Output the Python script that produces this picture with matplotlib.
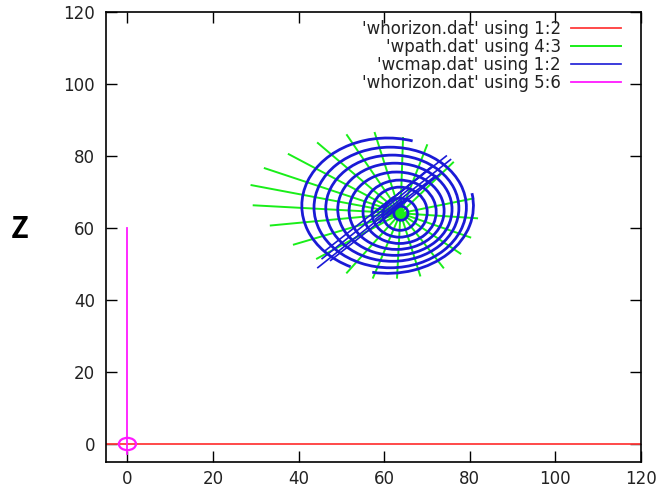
import matplotlib
matplotlib.use("Agg")
import matplotlib.pyplot as plt
from matplotlib.patches import Arc, Ellipse
import numpy as np

# --- horizon line (whorizon.dat 1:2) ---
horizon_x = [-10, 130]
horizon_y = [0, 0]

# --- observer marker (whorizon.dat 5:6) ---
observer_x = [0, 0]
observer_y = [-2.8, 60]
observer_ring = (0, 0, 4.0, 3.4)   # centre x, centre y, width, height

# --- ray paths (wpath.dat 4:3): common origin and end points ---
ray_origin = (63.8, 64.1)
ray_end_x = [81.7, 80.8, 76.1, 70.0, 64.4, 57.8, 51.3, 44.5, 37.7, 32.1, 29.0,
             29.5, 33.5, 38.9, 44.3, 51.3, 57.4, 63.0, 68.4, 73.8, 77.8, 80.1]
ray_end_y = [62.7, 68.2, 78.2, 83.0, 85.0, 86.4, 85.8, 83.6, 80.5, 76.6, 71.9,
             66.3, 60.7, 55.4, 51.5, 47.6, 46.2, 46.2, 46.8, 49.0, 52.9, 57.4]

# --- colour-map contours (wcmap.dat 1:2) ---
ring_cx = [63.9, 63.7, 63.6, 63.6, 62.9, 62.5, 61.9, 61.4, 60.8]
ring_cy = [64.1, 63.8, 64.4, 64.5, 64.8, 65.2, 65.5, 65.7, 66.2]
ring_w = [3.3, 8.0, 12.9, 17.1, 22.2, 26.7, 31.1, 35.6, 40.1]
ring_h = [3.9, 8.9, 13.9, 17.6, 21.5, 25.6, 29.5, 33.5, 37.6]
# arc spans (degrees) of every contour piece: (ring index, start, end)
ring_pieces = [(0, 0, 360), (1, 0, 360), (2, 0, 360), (3, 0, 360),
               (4, 0, 360), (5, 0, 360), (6, 0, 360), (7, 0, 360),
               (8, 72, 243), (8, 259, 370)]
# straight contour pieces along the cut
cut_x0 = [44.5, 45.5, 47.5, 46.0, 57.0, 58.0, 59.0, 58.5, 60.0]
cut_y0 = [49.0, 51.5, 51.0, 53.5, 63.5, 62.5, 61.5, 65.0, 63.5]
cut_x1 = [64.0, 66.0, 65.5, 62.0, 74.5, 75.5, 73.0, 71.0, 72.0]
cut_y1 = [67.5, 71.0, 68.0, 68.5, 80.0, 79.0, 75.0, 77.0, 74.5]

RED = "#ff3b3b"
GREEN = "#19ee19"
BLUE = "#1a1ad6"
MAGENTA = "#ff19ff"
TEXT = "#222222"

fig = plt.figure(figsize=(6.6, 4.92), dpi=100)
ax = fig.add_axes([106 / 660, 1 - 462 / 492, 535 / 660, 450 / 492])

ax.plot(horizon_x, horizon_y, color=RED, lw=1.3, label="'whorizon.dat' using 1:2", zorder=2)

# rays as one NaN-separated line
rx, ry = [], []
for ex, ey in zip(ray_end_x, ray_end_y):
    rx += [ray_origin[0], ex, np.nan]
    ry += [ray_origin[1], ey, np.nan]
ax.plot(rx, ry, color=GREEN, lw=1.4, label="'wpath.dat' using 4:3", zorder=3)

# contours
for i, t1, t2 in ring_pieces:
    ax.add_patch(Arc((ring_cx[i], ring_cy[i]), ring_w[i], ring_h[i],
                     theta1=t1, theta2=t2, color=BLUE, lw=2.0, zorder=4))
cx, cy = [], []
for a, b, c, d in zip(cut_x0, cut_y0, cut_x1, cut_y1):
    cx += [a, c, np.nan]
    cy += [b, d, np.nan]
ax.plot(cx, cy, color=BLUE, lw=1.2, label="'wcmap.dat' using 1:2", zorder=4)

ax.plot(observer_x, observer_y, color=MAGENTA, lw=1.3, label="'whorizon.dat' using 5:6", zorder=5)
ax.add_patch(Ellipse(observer_ring[:2], observer_ring[2], observer_ring[3],
                     fill=False, edgecolor=MAGENTA, lw=1.6, zorder=5))

ax.set_xlim(-5, 120)
ax.set_ylim(-5, 120)
ax.set_xticks(range(0, 121, 20))
ax.set_yticks(range(0, 121, 20))
ax.tick_params(direction="in", top=True, right=True, length=8, width=1,
               labelsize=12, labelcolor=TEXT)
ax.tick_params(axis="x", pad=6)
ax.tick_params(axis="y", pad=8)
for s in ax.spines.values():
    s.set_linewidth(1.2)

leg = ax.legend(loc="upper right", bbox_to_anchor=(621 / 660, 1 - 20 / 492),
                bbox_transform=fig.transFigure, frameon=False, markerfirst=False,
                fontsize=12, handlelength=3.0, handletextpad=0.6,
                labelspacing=0.0, borderpad=0, borderaxespad=0)
for t in leg.get_texts():
    t.set_color(TEXT)

fig.text(20 / 660, 1 - 229 / 492, "Z", ha="center", va="center",
         fontsize=21, fontweight="bold", family=["Noto Sans CJK JP", "DejaVu Sans"])

fig.savefig("out.png", dpi=100)
